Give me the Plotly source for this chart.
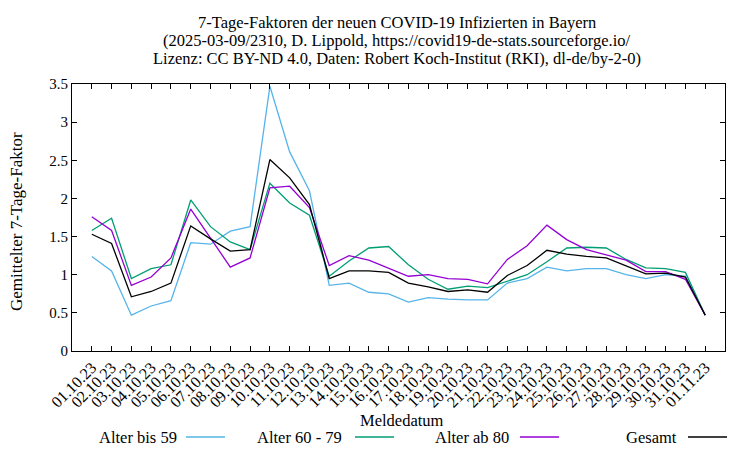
import plotly.graph_objects as go

dates = ["01.10.23","02.10.23","03.10.23","04.10.23","05.10.23","06.10.23","07.10.23","08.10.23",
         "09.10.23","10.10.23","11.10.23","12.10.23","13.10.23","14.10.23","15.10.23","16.10.23",
         "17.10.23","18.10.23","19.10.23","20.10.23","21.10.23","22.10.23","23.10.23","24.10.23",
         "25.10.23","26.10.23","27.10.23","28.10.23","29.10.23","30.10.23","31.10.23","01.11.23"]

alter_bis_59 = [1.24,1.05,0.47,0.59,0.66,1.42,1.40,1.57,1.63,3.47,2.61,2.10,0.86,0.89,0.77,0.75,
                0.64,0.70,0.68,0.67,0.67,0.89,0.95,1.10,1.05,1.08,1.08,1.00,0.95,1.00,0.98,0.47]
alter_60_79 = [1.58,1.74,0.95,1.08,1.13,1.98,1.63,1.43,1.33,2.20,1.94,1.78,0.98,1.18,1.35,1.37,
               1.13,0.94,0.81,0.85,0.83,0.92,1.00,1.17,1.35,1.36,1.35,1.20,1.09,1.08,1.03,0.47]
alter_ab_80 = [1.76,1.58,0.86,0.97,1.22,1.86,1.48,1.10,1.22,2.14,2.16,1.88,1.12,1.25,1.19,1.08,
               0.98,1.00,0.95,0.94,0.88,1.20,1.38,1.65,1.46,1.33,1.26,1.19,1.04,1.04,0.94,0.47]
gesamt = [1.53,1.41,0.71,0.78,0.89,1.64,1.47,1.31,1.33,2.51,2.27,1.92,0.95,1.05,1.05,1.03,
          0.89,0.84,0.78,0.80,0.77,0.99,1.12,1.32,1.27,1.24,1.22,1.12,1.01,1.02,0.97,0.47]

y_tickvals = [0, 0.5, 1, 1.5, 2, 2.5, 3, 3.5]
y_ticktext = ["0", "0.5", "1", "1.5", "2", "2.5", "3", "3.5"]

series = [("Alter bis 59", alter_bis_59, "#56b4e9"),
          ("Alter 60 - 79", alter_60_79, "#009e73"),
          ("Alter ab 80", alter_ab_80, "#9400d3"),
          ("Gesamt", gesamt, "#000000")]

title_lines = ["7-Tage-Faktoren der neuen COVID-19 Infizierten in Bayern",
               "(2025-03-09/2310, D. Lippold, https://covid19-de-stats.sourceforge.io/",
               "Lizenz: CC BY-ND 4.0, Daten: Robert Koch-Institut (RKI), dl-de/by-2-0)"]

FONT = "Liberation Serif"
TXT = 16.5
OFF = 8  # page body margin
L, R, T, B = 72 - OFF, 725 - OFF, 84 - OFF, 351 - OFF
FW, FH = 750 - OFF, 450 - OFF
W, H = R - L, B - T

def px(x):
    return (x - OFF - L) / W

def py(y):
    return (B - (y - OFF)) / H

fig = go.Figure()
for name, vals, col in series:
    fig.add_trace(go.Scatter(x=dates, y=vals, mode="lines", name=name,
                             line=dict(color=col, width=1.3), showlegend=False))

# legend (gnuplot style: text then sample line)
legend_pos = [(179, 186, 225), (344, 355, 394), (511, 520, 559), (679, 688, 727)]
for (name, vals, col), (tx, lx0, lx1) in zip(series, legend_pos):
    fig.add_annotation(x=px(tx), y=py(437), xref="paper", yref="paper", text=name,
                       showarrow=False, xanchor="right", yanchor="middle",
                       font=dict(family=FONT, size=TXT, color="black"))
    fig.add_shape(type="line", xref="paper", yref="paper", x0=px(lx0), x1=px(lx1),
                  y0=py(437), y1=py(437), line=dict(color=col, width=1.3))

for i, t in enumerate(title_lines):
    fig.add_annotation(x=px(397), y=py(22 + 18 * i), xref="paper", yref="paper", text=t,
                       showarrow=False, xanchor="center", yanchor="middle",
                       font=dict(family=FONT, size=TXT, color="black"))

fig.add_annotation(x=px(402), y=py(420), xref="paper", yref="paper", text="Meldedatum",
                   showarrow=False, xanchor="center", yanchor="middle",
                   font=dict(family=FONT, size=TXT, color="black"))
fig.add_annotation(x=px(17), y=py(222), xref="paper", yref="paper",
                   text="Gemittelter 7-Tage-Faktor", textangle=-90,
                   showarrow=False, xanchor="center", yanchor="middle",
                   font=dict(family=FONT, size=17, color="black"))

fig.update_layout(
    width=FW, height=FH,
    margin=dict(l=L, r=FW - R, t=T, b=FH - B),
    paper_bgcolor="white", plot_bgcolor="white",
    font=dict(family=FONT, size=15, color="black"),
    xaxis=dict(type="category", range=[-1, 32], tickangle=-45,
               showline=True, linecolor="black", linewidth=1.2, mirror="ticks",
               ticks="inside", ticklen=5, tickcolor="black", showgrid=False,
               zeroline=False, tickfont=dict(family=FONT, size=16)),
    yaxis=dict(range=[0, 3.5], tickvals=y_tickvals, ticktext=y_ticktext,
               showline=True, linecolor="black", linewidth=1.2, mirror="ticks",
               ticks="inside", ticklen=5, tickcolor="black", showgrid=False,
               zeroline=False, tickfont=dict(family=FONT, size=15)),
)

fig.write_html("out.html")
